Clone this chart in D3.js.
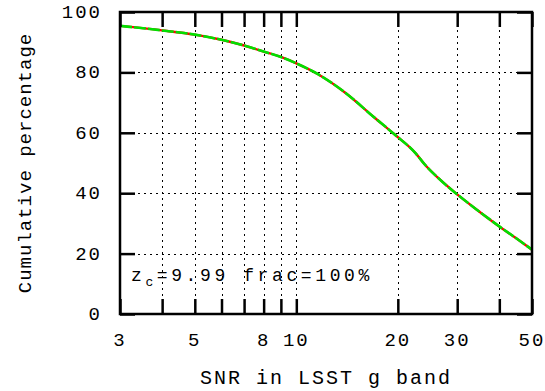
<!DOCTYPE html>
<html>
<head>
<meta charset="utf-8">
<script src="https://cdn.jsdelivr.net/npm/d3@7"></script>
<style>
  body { margin: 0; background: #fff; }
  text { font-family: "Liberation Mono", "DejaVu Sans Mono", monospace; fill: #000; }
</style>
</head>
<body>
<svg id="chart" width="545" height="391"></svg>
<script>
'use strict';

// cumulative percentage vs SNR
var snr = [3, 4, 5, 6, 7, 8, 9, 10, 11.6, 14, 16.9, 19.5, 22.6, 24, 26.5, 30, 35, 40, 45, 50];
var cumPct = [95.4, 93.9, 92.5, 90.8, 88.9, 86.9, 85.1, 83, 79.4, 73.2, 65.4, 59.6, 53.2, 49.6, 44.8, 39.6, 33.8, 29.0, 25.0, 21.3];

var xTicks = [3, 4, 5, 6, 7, 8, 9, 10, 20, 30, 40, 50];
var xTickLabels = [3, 5, 8, 10, 20, 30, 50];
var yTicks = [0, 20, 40, 60, 80, 100];

var drawChart = (function() {
    var svg = d3.select("#chart");
    var pLeft = 120, pRight = 532, pTop = 12, pBottom = 314;
    var tickLen = 15;

    var x = d3.scaleLog().domain([3, 50]).range([pLeft, pRight]);
    var y = d3.scaleLinear().domain([0, 100]).range([pBottom, pTop]);

    // grid
    var grid = svg.append("g").attr("class", "grid")
        .attr("stroke", "#000").attr("stroke-width", 1).attr("stroke-dasharray", "2,4");
    grid.selectAll("line.gx")
        .data(xTicks.filter(function(d) { return d > 3 && d < 50; }))
        .enter().append("line")
        .attr("x1", function(d) { return Math.round(x(d)) + 0.5; })
        .attr("x2", function(d) { return Math.round(x(d)) + 0.5; })
        .attr("y1", pTop).attr("y2", pBottom);
    grid.selectAll("line.gy")
        .data(yTicks.filter(function(d) { return d > 0 && d < 100; }))
        .enter().append("line")
        .attr("y1", function(d) { return Math.round(y(d)) + 0.5; })
        .attr("y2", function(d) { return Math.round(y(d)) + 0.5; })
        .attr("x1", pLeft).attr("x2", pRight);

    // curve: red line under a dashed green one
    var line = d3.line()
        .x(function(d) { return x(d[0]); })
        .y(function(d) { return y(d[1]); })
        .curve(d3.curveMonotoneX);
    var pts = snr.map(function(s, i) { return [s, cumPct[i]]; });

    svg.append("path").datum(pts)
        .attr("d", line).attr("fill", "none")
        .attr("stroke", "#ff0000").attr("stroke-width", 2.4);
    svg.append("path").datum(pts)
        .attr("d", line).attr("fill", "none")
        .attr("stroke", "#00e000").attr("stroke-width", 2.6)
        .attr("stroke-dasharray", "12,2");

    // axes with inward ticks on all four sides
    var axB = d3.axisBottom(x).tickValues(xTicks).tickSize(-tickLen).tickFormat("");
    var axT = d3.axisTop(x).tickValues(xTicks).tickSize(-tickLen).tickFormat("");
    var axL = d3.axisLeft(y).tickValues(yTicks).tickSize(-tickLen).tickFormat("");
    var axR = d3.axisRight(y).tickValues(yTicks).tickSize(-tickLen).tickFormat("");

    function styleAxis(g) {
        g.select(".domain").remove();
        g.selectAll(".tick line").attr("stroke", "#000").attr("stroke-width", 2.5);
    }
    svg.append("g").attr("transform", "translate(0," + pBottom + ")").call(axB).call(styleAxis);
    svg.append("g").attr("transform", "translate(0," + pTop + ")").call(axT).call(styleAxis);
    svg.append("g").attr("transform", "translate(" + pLeft + ",0)").call(axL).call(styleAxis);
    svg.append("g").attr("transform", "translate(" + pRight + ",0)").call(axR).call(styleAxis);

    svg.append("rect")
        .attr("x", pLeft).attr("y", pTop)
        .attr("width", pRight - pLeft).attr("height", pBottom - pTop)
        .attr("fill", "none").attr("stroke", "#000").attr("stroke-width", 2.5);

    // tick labels
    svg.append("g").selectAll("text")
        .data(xTickLabels).enter().append("text")
        .attr("x", function(d) { return x(d); })
        .attr("y", 346)
        .attr("text-anchor", "middle")
        .style("font-size", "19px").style("letter-spacing", "2px")
        .text(function(d) { return d; });

    svg.append("g").selectAll("text")
        .data(yTicks).enter().append("text")
        .attr("x", 102)
        .attr("y", function(d) { return y(d) + 6; })
        .attr("text-anchor", "end")
        .style("font-size", "19px").style("letter-spacing", "2px")
        .text(function(d) { return d; });

    // axis titles
    svg.append("text")
        .attr("x", (pLeft + pRight) / 2).attr("y", 384)
        .attr("text-anchor", "middle")
        .style("font-size", "20px").style("letter-spacing", "2px")
        .text("SNR in LSST g band");

    svg.append("text")
        .attr("transform", "translate(31," + (pTop + pBottom) / 2 + ") rotate(-90)")
        .attr("text-anchor", "middle")
        .style("font-size", "19px").style("letter-spacing", "1px")
        .text("Cumulative percentage");

    // annotation
    var note = svg.append("text")
        .attr("x", 131).attr("y", 281)
        .style("font-size", "18px").style("letter-spacing", "3.6px");
    note.append("tspan").text("z");
    note.append("tspan").attr("dy", 5).style("font-size", "13px").text("c");
    note.append("tspan").attr("dy", -5).text("=9.99 frac=100%");
}());
</script>
</body>
</html>
